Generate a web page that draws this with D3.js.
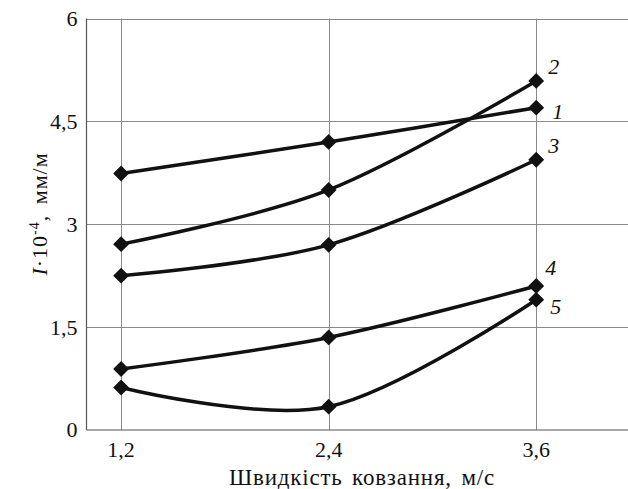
<!DOCTYPE html>
<html>
<head>
<meta charset="utf-8">
<script src="https://cdn.jsdelivr.net/npm/d3@7.9.0/dist/d3.min.js"></script>
<style>
    body { margin: 0; background: #fff; }
    svg text { font-family: "Liberation Serif", "Times New Roman", serif; fill: #111; }
</style>
</head>
<body>
<div id="chart"></div>
<script>
const speeds = [1.2, 2.4, 3.6];
const series1 = [3.74, 4.20, 4.70];
const series2 = [2.71, 3.50, 5.09];
const series3 = [2.25, 2.70, 3.94];
const series4 = [0.89, 1.35, 2.10];
const series5 = [0.62, 0.34, 1.90];
const seriesNames = ['1', '2', '3', '4', '5'];
const yTicks = [0, 1.5, 3, 4.5, 6];
const xTicks = [1.2, 2.4, 3.6];

const width = 628;
const height = 489;
const margin = { top: 18.5, right: -12, bottom: 59, left: 86.5 };

const allSeries = [series1, series2, series3, series4, series5].map((vals, i) => ({
    name: seriesNames[i],
    points: vals.map((v, j) => ({ x: speeds[j], y: v })),
}));

const svg = d3.select('#chart')
    .append('svg')
    .attr('width', width)
    .attr('height', height);

const xScale = d3.scaleLinear()
    .domain([1.0, 4.2])
    .range([margin.left, width - margin.right]);

const yScale = d3.scaleLinear()
    .domain([0, 6])
    .range([height - margin.bottom, margin.top]);

const fmt = (d) => String(d).replace('.', ',');

// gridlines
const grid = svg.append('g').attr('stroke', '#8a8a8a').attr('stroke-width', 1);
grid.selectAll('.hgrid')
    .data(yTicks.filter((d) => d > 0))
    .join('line')
    .attr('x1', xScale(1.0))
    .attr('x2', xScale(4.2))
    .attr('y1', (d) => Math.round(yScale(d)) + 0.5)
    .attr('y2', (d) => Math.round(yScale(d)) + 0.5);
grid.selectAll('.vgrid')
    .data(xTicks)
    .join('line')
    .attr('x1', (d) => Math.round(xScale(d)) + 0.5)
    .attr('x2', (d) => Math.round(xScale(d)) + 0.5)
    .attr('y1', yScale(6))
    .attr('y2', yScale(0));

// axes lines
svg.append('line')
    .attr('x1', xScale(1.0)).attr('x2', xScale(1.0))
    .attr('y1', yScale(6)).attr('y2', yScale(0))
    .attr('stroke', '#555').attr('stroke-width', 1.2);
svg.append('line')
    .attr('x1', xScale(1.0)).attr('x2', xScale(4.2))
    .attr('y1', yScale(0)).attr('y2', yScale(0))
    .attr('stroke', '#555').attr('stroke-width', 1.2);

// tick labels
svg.append('g')
    .selectAll('text')
    .data(yTicks)
    .join('text')
    .attr('x', xScale(1.0) - 9)
    .attr('y', (d) => yScale(d))
    .attr('dy', '0.34em')
    .attr('text-anchor', 'end')
    .style('font-size', '22px')
    .text(fmt);

svg.append('g')
    .selectAll('text')
    .data(xTicks)
    .join('text')
    .attr('x', (d) => xScale(d))
    .attr('y', yScale(0) + 27)
    .attr('text-anchor', 'middle')
    .style('font-size', '22px')
    .text(fmt);

// axis titles
svg.append('text')
    .attr('x', 362)
    .attr('y', 485)
    .attr('text-anchor', 'middle')
    .style('font-size', '23px')
    .style('letter-spacing', '0.8px')
    .style('word-spacing', '3px')
    .text('Швидкість ковзання, м/с');

const yTitle = svg.append('text')
    .attr('transform', 'translate(47, 214) rotate(-90)')
    .attr('text-anchor', 'middle')
    .style('font-size', '22px')
    .style('letter-spacing', '1px');
yTitle.append('tspan').style('font-style', 'italic').text('I');
yTitle.append('tspan').text('·10');
yTitle.append('tspan').style('font-size', '14px').attr('dy', -8).text('-4');
yTitle.append('tspan').attr('dy', 8).style('word-spacing', '4px').text(', мм/м');

// lines
const line = d3.line()
    .x((d) => xScale(d.x))
    .y((d) => yScale(d.y))
    .curve(d3.curveCardinal.tension(0));

svg.append('g')
    .selectAll('path')
    .data(allSeries)
    .join('path')
    .attr('d', (d) => line(d.points))
    .attr('fill', 'none')
    .attr('stroke', '#111')
    .attr('stroke-width', 3.5);

// diamond markers
const diamond = d3.symbol().type(d3.symbolDiamond2).size(160);
svg.append('g')
    .selectAll('path')
    .data(allSeries.flatMap((s) => s.points))
    .join('path')
    .attr('transform', (d) => `translate(${xScale(d.x)},${yScale(d.y)})`)
    .attr('d', diamond)
    .attr('fill', '#111');

// series labels
const labelOffsets = { '1': [16, 11], '2': [12, -7], '3': [12, -7], '4': [9, -11], '5': [14, 14] };
svg.append('g')
    .selectAll('text')
    .data(allSeries)
    .join('text')
    .attr('x', (d) => xScale(d.points[2].x) + labelOffsets[d.name][0])
    .attr('y', (d) => yScale(d.points[2].y) + labelOffsets[d.name][1])
    .style('font-size', '22px')
    .style('font-style', 'italic')
    .text((d) => d.name);
</script>
</body>
</html>
